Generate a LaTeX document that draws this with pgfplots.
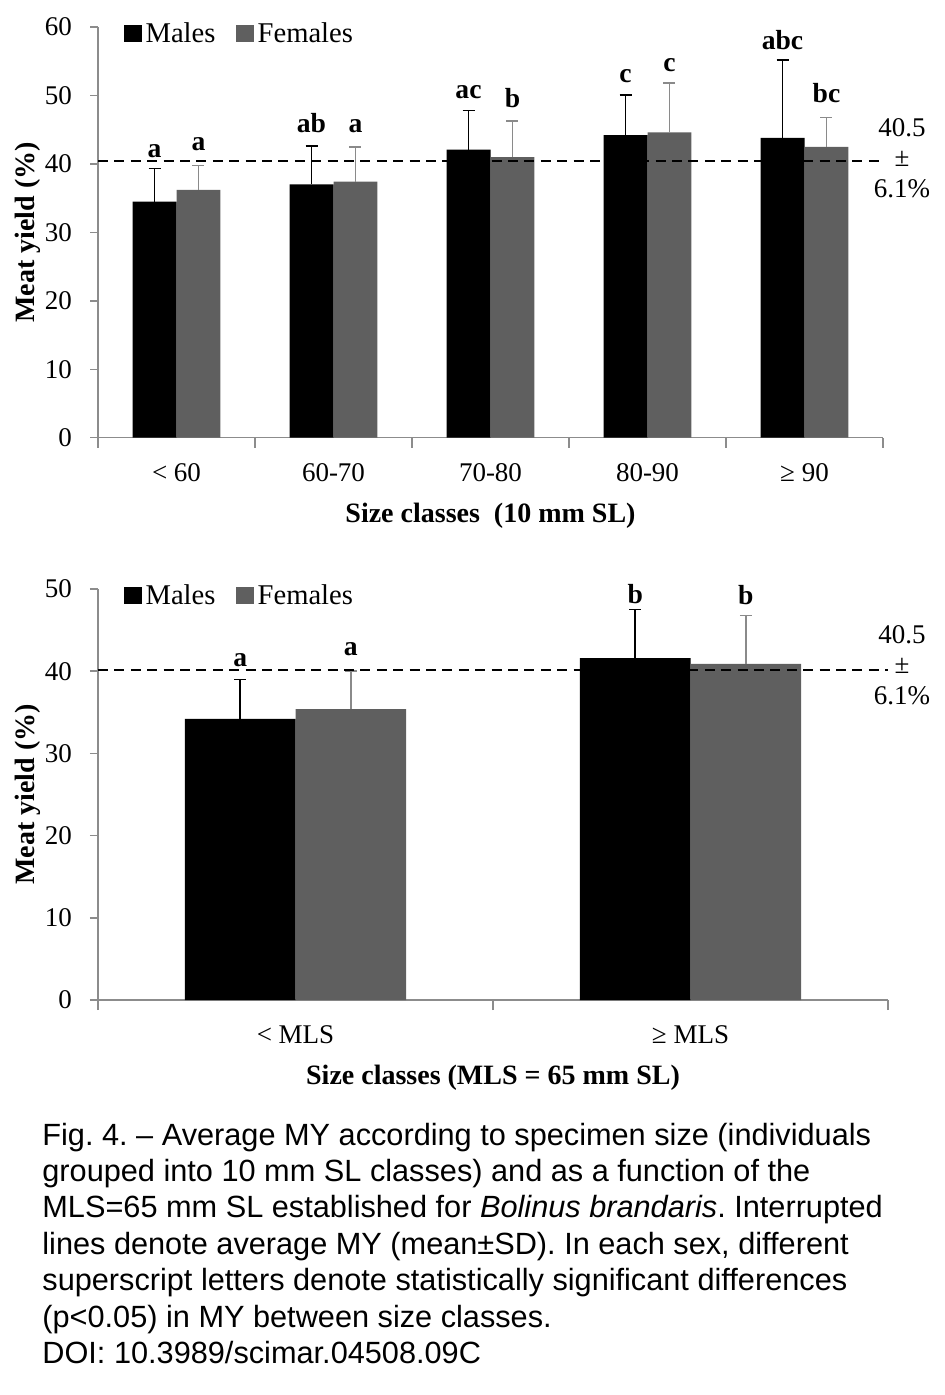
\documentclass[border=0pt]{standalone}
\usepackage{pgfplots}
\pgfplotsset{compat=1.18}
\usepackage{pgfplotstable}
\usepackage{fontspec}
\setmainfont{Liberation Serif}
\newfontfamily\capfont{Liberation Sans}
\definecolor{femgray}{HTML}{5F5F5F}
\definecolor{ferr}{HTML}{8A8A8A}
\definecolor{axgray}{HTML}{8C8C8C}
\frenchspacing

% columns: xm/xf = bar centres of males/females
\pgfplotstableread{
xm xf m me f fe
0.36 0.64 34.5 4.8 36.2 3.6
1.36 1.64 37.0 5.6 37.4 5.1
2.36 2.64 42.1 5.7 41.0 5.3
3.36 3.64 44.2 5.9 44.6 7.2
4.36 4.64 43.8 11.4 42.5 4.3
}\topdata

\pgfplotstableread{
x y lab
0.36 41.0 a
0.64 41.9 a
1.36 44.6 ab
1.64 44.6 a
2.36 49.6 ac
2.64 48.3 b
3.36 51.9 c
3.64 53.5 c
4.36 56.7 abc
4.64 48.9 bc
}\toplab

\pgfplotstableread{
xm xf m me f fe
0.36 0.64 34.2 4.8 35.4 4.6
1.36 1.64 41.6 5.9 40.9 5.9
}\botdata

\pgfplotstableread{
x y lab
0.36 40.6 a
0.64 41.9 a
1.36 48.2 b
1.64 48.1 b
}\botlab

\pgfplotsset{
  myaxis/.style={
    scale only axis,
    axis x line*=bottom, axis y line*=left,
    axis line style={axgray, line width=0.75pt},
    tick align=outside,
    every tick/.style={axgray, line width=0.75pt},
    major tick length=4pt,
    minor tick length=5pt,
    every major x tick/.append style={draw=none},
    ymin=0,
    font=\fontsize{13.5}{16}\selectfont,
    tick label style={font=\fontsize{13.5}{16}\selectfont},
    /pgf/number format/assume math mode=true,
    every x tick label/.append style={anchor=center, yshift=-13.5pt},
    every y tick label/.append style={xshift=-5.5pt},
    every axis y label/.style={at={(rel axis cs:0,0.5)}, xshift=-35pt, rotate=90, anchor=center,
      font=\fontsize{14}{16}\selectfont\bfseries},
    every axis x label/.style={at={(rel axis cs:0.5,0)}, yshift=-38.9pt, anchor=center,
      font=\fontsize{14}{16}\selectfont\bfseries},
    legend style={at={(rel axis cs:0,1)}, anchor=north west, draw=none, fill=none,
      xshift=10pt, yshift=6.5pt, font=\fontsize{14.3}{16}\selectfont,
      legend cell align=left, /tikz/every even column/.append style={column sep=8.5pt}},
    legend columns=2,
    legend image code/.code={\fill[##1] (0pt,-4.3pt) rectangle (8.6pt,4.3pt);},
    clip=false,
  },
  malebar/.style={ybar, bar width=0.28, bar shift=0, fill=black, draw=none,
    error bars/.cd, y dir=plus, y explicit,
    error bar style={black, line width=0.75pt},
    error mark options={rotate=90, mark size=3pt, black, line width=0.75pt}},
  fembar/.style={ybar, bar width=0.28, bar shift=0, fill=femgray, draw=none,
    error bars/.cd, y dir=plus, y explicit,
    error bar style={ferr, line width=0.75pt},
    error mark options={rotate=90, mark size=3pt, ferr, line width=0.75pt}},
  letters/.style={draw=none, mark=none, forget plot,
    nodes near coords={\pgfplotspointmeta}, point meta=explicit symbolic,
    nodes near coords style={anchor=base, inner sep=0pt, font=\fontsize{13.8}{16}\selectfont\bfseries, text=black}},
}

\begin{document}
\begin{tikzpicture}
\path[use as bounding box] (0,0) rectangle (472.5pt,-697.5pt);

% ---------- top chart ----------
\begin{axis}[myaxis,
  at={(49pt,-218.85pt)}, anchor=south west,
  width=392.5pt, height=205.35pt,
  xmin=0, xmax=5, ymax=60,
  ytick={0,10,...,60},
  xtick={0.5,1.5,2.5,3.5,4.5},
  xticklabels={< 60, 60-70, 70-80, 80-90, ≥ 90},
  minor xtick={0,1,2,3,4,5},
  ylabel={Meat yield (\%)},
  xlabel={Size classes\ \ (10 mm SL)},
]
\addplot[malebar] table[x=xm, y=m, y error=me] {\topdata};
\addlegendentry{Males}
\addplot[fembar] table[x=xf, y=f, y error=fe] {\topdata};
\addlegendentry{Females}
\addplot[black, line width=1pt, dash pattern=on 5pt off 3.2pt, forget plot] coordinates {(0,40.4) (5,40.4)};
\addplot[letters] table[x=x, y=y, meta=lab] {\toplab};
\end{axis}
\node[align=center, font=\fontsize{13.5}{15.25}\selectfont, inner sep=0pt] at (451pt,-79pt) {40.5\\±\\6.1\%};

% ---------- bottom chart ----------
\begin{axis}[myaxis,
  at={(49pt,-500pt)}, anchor=south west,
  width=395pt, height=205.5pt,
  xmin=0, xmax=2, ymax=50,
  ytick={0,10,...,50},
  xtick={0.5,1.5},
  xticklabels={< MLS, ≥ MLS},
  minor xtick={0,1,2},
  ylabel={Meat yield (\%)},
  xlabel={Size classes (MLS = 65 mm SL)},
]
\addplot[malebar] table[x=xm, y=m, y error=me] {\botdata};
\addlegendentry{Males}
\addplot[fembar] table[x=xf, y=f, y error=fe] {\botdata};
\addlegendentry{Females}
\addplot[black, line width=1pt, dash pattern=on 5pt off 3.2pt, forget plot] coordinates {(0,40.2) (2,40.2)};
\addplot[letters] table[x=x, y=y, meta=lab] {\botlab};
\end{axis}
\node[align=center, font=\fontsize{13.5}{15.25}\selectfont, inner sep=0pt] at (451pt,-332.5pt) {40.5\\±\\6.1\%};

% ---------- caption ----------
\node[anchor=north west, inner sep=0pt, align=left,
  font=\capfont\fontsize{15.35}{18.2}\selectfont] at (21pt,-561.2pt) {%
Fig. 4. – Average MY according to specimen size (individuals\\
grouped into 10 mm SL classes) and as a function of the\\
MLS=65 mm SL established for \textit{Bolinus brandaris}. Interrupted\\
lines denote average MY (mean±SD). In each sex, different\\
superscript letters denote statistically significant differences\\
(p<0.05) in MY between size classes.\\
DOI: 10.3989/scimar.04508.09C};
\end{tikzpicture}
\end{document}
